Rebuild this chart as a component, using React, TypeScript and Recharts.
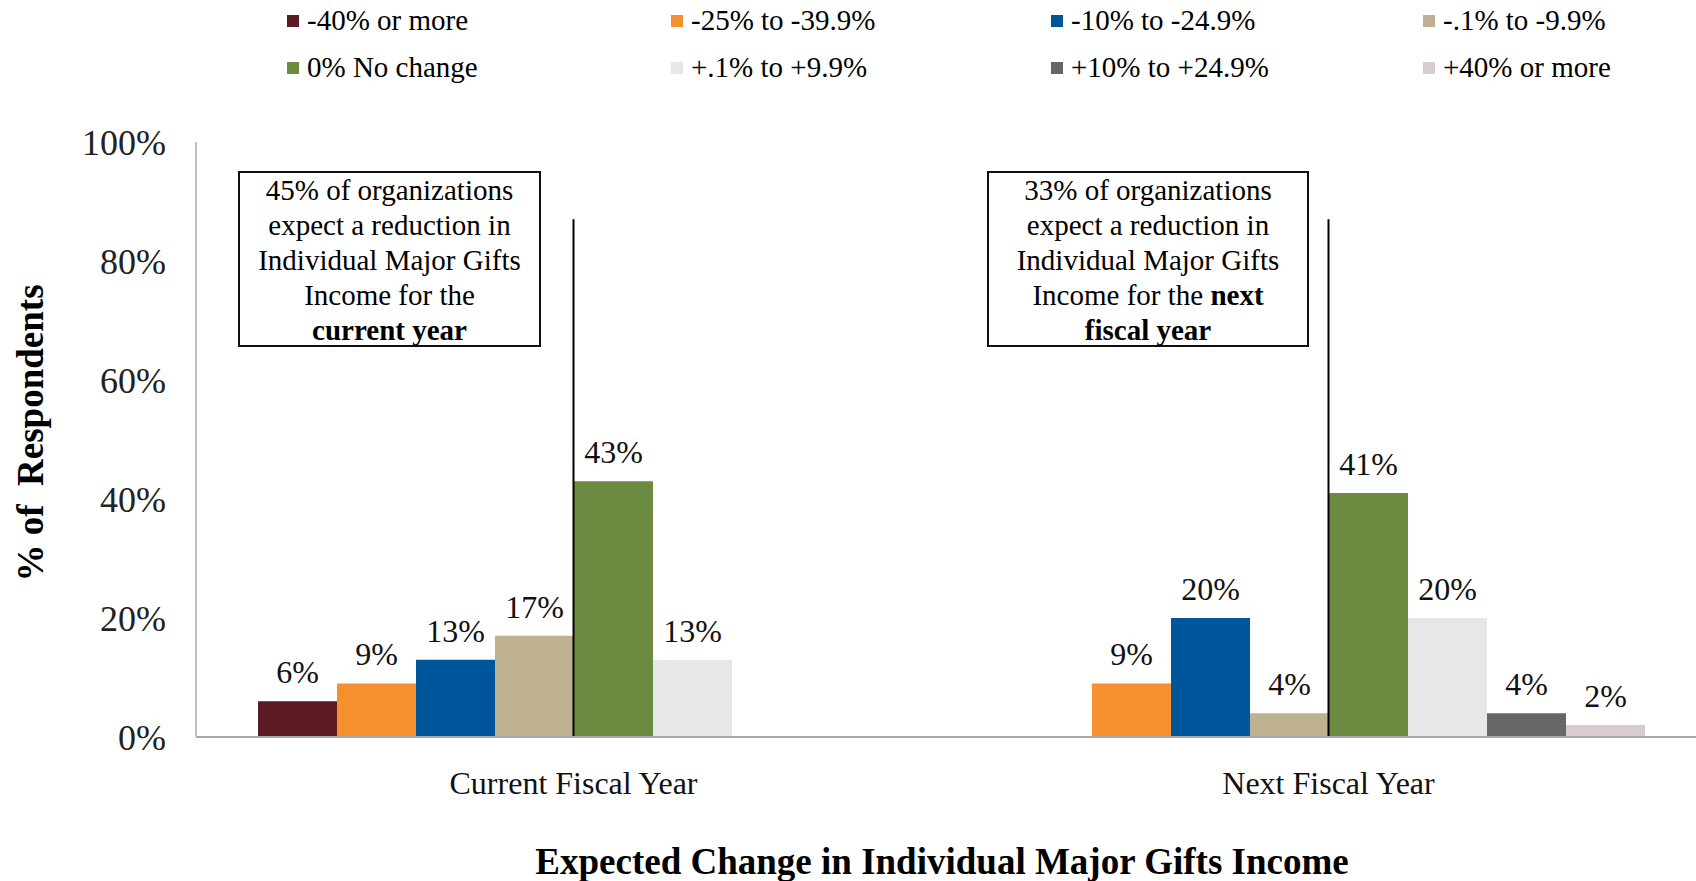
import React from "react";
import {
  BarChart,
  Bar,
  XAxis,
  YAxis,
  LabelList,
  ReferenceLine
} from "recharts";

// categories on the x axis
const categories = ["Current Fiscal Year", "Next Fiscal Year"];

// the eight answer groups, in bar order
const seriesNames = [
  "-40% or more",
  "-25% to -39.9%",
  "-10% to -24.9%",
  "-.1% to -9.9%",
  "0% No change",
  "+.1% to +9.9%",
  "+10% to +24.9%",
  "+40% or more"
];
const seriesColors = [
  "#5C1A22",
  "#F6902F",
  "#00569A",
  "#BEB190",
  "#6B8C40",
  "#E7E7E7",
  "#676767",
  "#D8CCCF"
];

// % of respondents per group
const currentYear = [6, 9, 13, 17, 43, 13, 0, 0];
const nextYear = [0, 9, 20, 4, 41, 20, 4, 2];

const yTicks = [0, 20, 40, 60, 80, 100];

// where the callout lines stop (in % of the axis)
const calloutTop = 87;

const FONT = '"Liberation Serif", "Times New Roman", serif';

const data = categories.map((cat, i) => {
  const vals = i === 0 ? currentYear : nextYear;
  const row: any = { category: cat };
  vals.forEach((v, j) => {
    row[`s${j}`] = v;
  });
  return row;
});

const legendCols = [287, 671, 1051, 1423];

const Legend8 = () => (
  <div style={{ position: "absolute", left: 0, top: 0, width: 1696, height: 90 }}>
    {seriesNames.map((name, j) => {
      const col = j % 4;
      const row = Math.floor(j / 4);
      return (
        <div
          key={name}
          style={{
            position: "absolute",
            left: legendCols[col],
            top: row === 0 ? 3 : 50,
            height: 35,
            display: "flex",
            alignItems: "center",
            fontFamily: FONT,
            fontSize: 29,
            color: "#000",
            whiteSpace: "nowrap"
          }}
        >
          <span
            style={{
              display: "inline-block",
              width: 12,
              height: 12,
              background: seriesColors[j],
              marginRight: 8
            }}
          />
          {name}
        </div>
      );
    })}
  </div>
);

const boxStyle: React.CSSProperties = {
  position: "absolute",
  top: 171,
  height: 172,
  border: "2px solid #111",
  background: "#fff",
  fontFamily: FONT,
  fontSize: 29,
  lineHeight: "35px",
  textAlign: "center",
  color: "#000",
  whiteSpace: "nowrap"
};

const App = () => {
  return (
    <div style={{ position: "absolute", left: 0, top: 0, width: 1696, height: 881, background: "#fff" }}>
      <BarChart
        width={1696}
        height={881}
        data={data}
        margin={{ top: 142, right: -10, bottom: 4, left: 26 }}
        barCategoryGap={62}
        barGap={0}
      >
        <XAxis
          dataKey="category"
          axisLine={{ stroke: "#A6A6A6", strokeWidth: 2 }}
          tickLine={false}
          tickSize={0}
          tickMargin={34}
          height={140}
          tick={{ fill: "#111", fontSize: 32, fontFamily: FONT }}
          label={{
            value: "Expected Change in Individual Major Gifts Income",
            position: "insideBottom",
            offset: 3,
            dx: -9,
            fill: "#000",
            fontSize: 37,
            fontWeight: "bold",
            fontFamily: FONT
          }}
        />
        <YAxis
          width={170}
          domain={[0, 100]}
          ticks={yTicks}
          interval={0}
          tickFormatter={(v) => `${v}%`}
          axisLine={{ stroke: "#BFBFBF", strokeWidth: 2 }}
          tickLine={false}
          tickSize={0}
          tickMargin={30}
          tick={{ fill: "#222", fontSize: 36, fontFamily: FONT }}
        />
        {seriesNames.map((name, j) => (
          <Bar
            key={name}
            dataKey={`s${j}`}
            name={name}
            fill={seriesColors[j]}
            isAnimationActive={false}
          >
            <LabelList
              dataKey={`s${j}`}
              position="top"
              offset={18}
              formatter={(v: any) => (v ? `${v}%` : "")}
              fill="#111"
              fontSize={32}
              fontFamily={FONT}
            />
          </Bar>
        ))}
        {categories.map((cat) => (
          <ReferenceLine
            key={cat}
            segment={[
              { x: cat, y: 0 },
              { x: cat, y: calloutTop }
            ]}
            stroke="#000"
            strokeWidth={2}
          />
        ))}
      </BarChart>

      <Legend8 />

      <div
        style={{
          position: "absolute",
          left: 30,
          top: 433,
          transform: "translate(-50%, -50%) rotate(-90deg)",
          fontFamily: FONT,
          fontSize: 37,
          fontWeight: "bold",
          whiteSpace: "pre",
          color: "#000"
        }}
      >
        {"% of  Respondents"}
      </div>

      <div style={{ ...boxStyle, left: 238, width: 299 }}>
        45% of organizations
        <br />
        expect a reduction in
        <br />
        Individual Major Gifts
        <br />
        Income for the
        <br />
        <b>current year</b>
      </div>
      <div style={{ ...boxStyle, left: 987, width: 318 }}>
        33% of organizations
        <br />
        expect a reduction in
        <br />
        Individual Major Gifts
        <br />
        Income for the <b>next</b>
        <br />
        <b>fiscal year</b>
      </div>
    </div>
  );
};

export default App;
